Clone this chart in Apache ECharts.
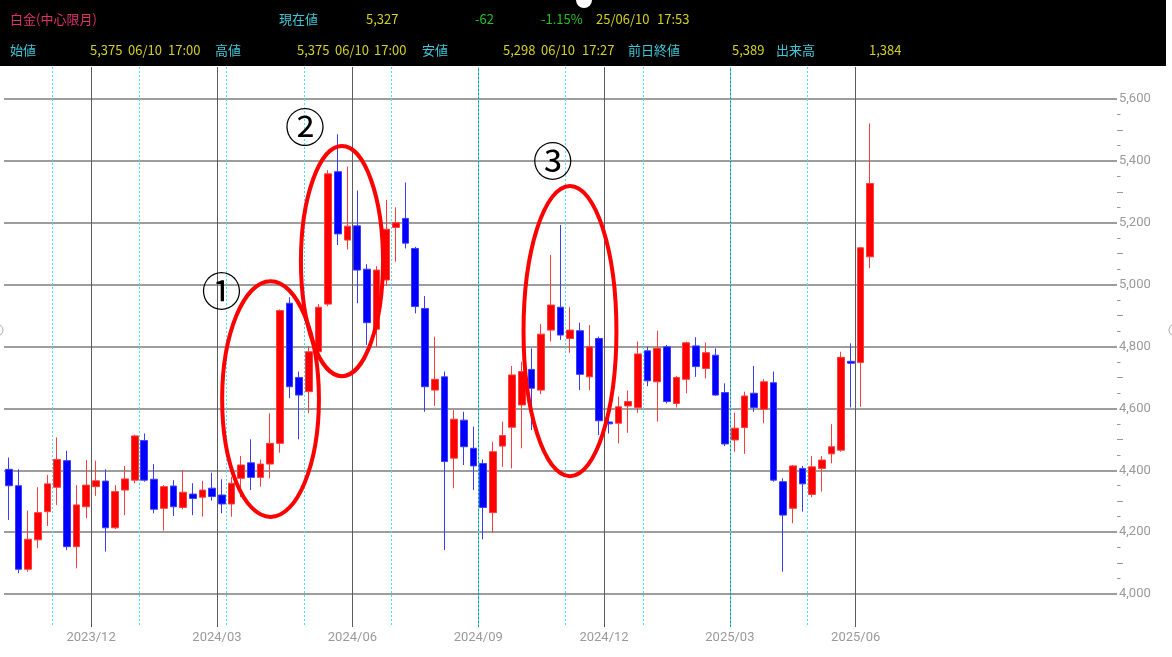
<!DOCTYPE html>
<html><head><meta charset="utf-8">
<script src="https://cdn.jsdelivr.net/npm/echarts@6/dist/echarts.min.js"></script>
<style>html,body{margin:0;padding:0;background:#fff}#c{width:1172px;height:657px}</style>
</head><body><div id="c"></div>
<script>
// ---------- data (weekly candles, week-ending dates) ----------
const weeks = [
'2023/09/29','2023/10/06','2023/10/13','2023/10/20','2023/10/27','2023/11/03','2023/11/10','2023/11/17','2023/11/24','2023/12/01',
'2023/12/08','2023/12/15','2023/12/22','2023/12/29','2024/01/05','2024/01/12','2024/01/19','2024/01/26','2024/02/02','2024/02/09',
'2024/02/16','2024/02/23','2024/03/01','2024/03/08','2024/03/15','2024/03/22','2024/03/29','2024/04/05','2024/04/12','2024/04/19',
'2024/04/26','2024/05/03','2024/05/10','2024/05/17','2024/05/24','2024/05/31','2024/06/07','2024/06/14','2024/06/21','2024/06/28',
'2024/07/05','2024/07/12','2024/07/19','2024/07/26','2024/08/02','2024/08/09','2024/08/16','2024/08/23','2024/08/30','2024/09/06',
'2024/09/13','2024/09/20','2024/09/27','2024/10/04','2024/10/11','2024/10/18','2024/10/25','2024/11/01','2024/11/08','2024/11/15',
'2024/11/22','2024/11/29','2024/12/06','2024/12/13','2024/12/20','2024/12/27','2025/01/03','2025/01/10','2025/01/17','2025/01/24',
'2025/01/31','2025/02/07','2025/02/14','2025/02/21','2025/02/28','2025/03/07','2025/03/14','2025/03/21','2025/03/28','2025/04/04',
'2025/04/11','2025/04/18','2025/04/25','2025/05/02','2025/05/09','2025/05/16','2025/05/23','2025/05/30','2025/06/06','2025/06/13'];

const openV = [
4403,4350,4080,4175,4266,4345,4431,4153,4282,4347,
4365,4214,4336,4368,4496,4371,4277,4349,4280,4323,
4313,4342,4320,4291,4374,4424,4377,4420,4487,4940,
4700,4654,4783,4937,5365,5144,5190,5050,4856,5015,
5185,5214,5117,4923,4659,4702,4439,4562,4471,4422,
4263,4478,4539,4611,4726,4659,4853,4927,4826,4851,
4702,4826,4556,4552,4608,4603,4786,4686,4799,4616,
4694,4802,4729,4772,4651,4498,4538,4649,4597,4683,
4363,4277,4406,4322,4406,4453,4465,4752,4748,5090];
const highV = [
4441,4403,4269,4345,4385,4506,4463,4352,4433,4431,
4403,4352,4414,4515,4519,4420,4352,4368,4401,4358,
4366,4392,4371,4379,4446,4500,4435,4584,4920,4959,
4719,4800,4937,5370,5486,5381,5304,5066,5060,5274,
5250,5330,5122,4963,4832,4719,4595,4589,4541,4435,
4492,4557,4737,4751,4794,4873,5096,5193,4927,4877,
4869,4832,4586,4638,4657,4816,4799,4851,4805,4705,
4816,4830,4812,4794,4681,4586,4654,4737,4694,4719,
4374,4417,4414,4446,4446,4549,4783,4810,5122,5521];
const lowV = [
4239,4067,4072,4148,4220,4288,4142,4083,4245,4317,
4137,4210,4255,4358,4363,4261,4205,4252,4274,4255,
4250,4302,4261,4250,4313,4336,4347,4374,4457,4633,
4500,4584,4780,4930,5128,5114,4940,4805,4799,4996,
5074,5117,4907,4589,4608,4142,4342,4417,4336,4177,
4198,4411,4406,4471,4530,4646,4816,4821,4780,4659,
4659,4514,4519,4487,4521,4586,4672,4557,4616,4603,
4649,4702,4697,4640,4478,4460,4453,4589,4552,4363,
4072,4229,4266,4313,4331,4422,4460,4603,4605,5053];
const closeV = [
4350,4080,4177,4263,4356,4435,4153,4288,4352,4366,
4214,4331,4372,4511,4368,4274,4347,4282,4329,4309,
4336,4315,4291,4358,4417,4377,4420,4487,4916,4670,
4643,4783,4927,5358,5164,5189,5047,4877,5047,5179,
5200,5134,4929,4670,4694,4428,4565,4476,4414,4280,
4460,4512,4708,4719,4665,4840,4934,4837,4853,4710,
4799,4560,4550,4605,4622,4776,4689,4794,4622,4700,
4812,4735,4780,4643,4485,4536,4640,4603,4686,4368,
4255,4414,4356,4411,4433,4476,4765,4746,5119,5327];

// axis tick labels
const yTicks = [4000,4200,4400,4600,4800,5000,5200,5400,5600];
const yMidTicks = [4100,4300,4500,4700,4900,5100,5300,5500];
const quarterStarts = ['2023/12/01','2024/03/01','2024/06/07','2024/09/06','2024/12/06','2025/03/07','2025/06/06'];
const quarterLabels = ['2023/12','2024/03','2024/06','2024/09','2024/12','2025/03','2025/06'];
const oddMonthMarks = ['2023/11/03','2024/01/05','2024/03/08','2024/05/03','2024/07/05','2024/09/06','2024/11/08','2025/01/03','2025/03/07','2025/05/02'];

// header texts
const headerRow1 = ['白金(中心限月)','現在値','5,327','-62','-1.15%','25/06/10','17:53'];
const headerRow2 = ['始値','5,375','06/10','17:00','高値','5,375','06/10','17:00','安値','5,298','06/10','17:27','前日終値','5,389','出来高','1,384'];

// annotations (in data space: category index, price)
const marks = ['①','②','③'];
const markAt = [[21.98,4980],[30.6,5509],[56.2,5400]];
const ovalAt = [[27.04,4630,5.0,381],[34.42,5076,4.24,372],[57.98,4850,4.8,469]];

// ---------- layout / style ----------
const SLOTS = 115;
const slots = weeks.concat(new Array(SLOTS - weeks.length).fill(''));
const bounds = slots.concat(['']);
const candles = weeks.map((d, i) => [openV[i], closeV[i], lowV[i], highV[i]]);

const PINK = '#e0306e', CYAN = '#3ec6d6', YEL = '#d4cf1e', GRN = '#22c222';
const row1X = [10, 279, 366, 475, 541, 596, 657];
const row1C = [PINK, CYAN, YEL, GRN, GRN, YEL, YEL];
const row2X = [10, 90, 128, 168, 215, 297, 335, 374, 422, 503, 541, 582, 628, 732, 776, 869];
const row2C = [CYAN,YEL,YEL,YEL,CYAN,YEL,YEL,YEL,CYAN,YEL,YEL,YEL,CYAN,YEL,CYAN,YEL];
const HFONT = '13px "Noto Sans CJK JP", "Noto Sans", sans-serif';

const chart = echarts.init(document.getElementById('c'), null, {renderer: 'canvas', width: 1172, height: 657});

const option = {
  animation: false,
  backgroundColor: '#ffffff',
  grid: [
    {left: 4, right: 55, top: 99, bottom: 63},
    {left: 4, right: 55, top: 67, bottom: 30}
  ],
  xAxis: [
    {type: 'category', gridIndex: 0, data: slots, boundaryGap: true,
     axisLine: {show: false}, axisTick: {show: false}, axisLabel: {show: false}, splitLine: {show: false}},
    {type: 'category', gridIndex: 1, data: bounds, boundaryGap: false, position: 'bottom',
     axisLine: {show: false}, axisTick: {show: false},
     axisLabel: {interval: (i, v) => quarterStarts.includes(v),
                 formatter: v => { const k = quarterStarts.indexOf(v); return k >= 0 ? quarterLabels[k] : ''; },
                 color: '#9a9a9a', fontSize: 13, fontFamily: 'Roboto', margin: 4},
     splitLine: {show: true, interval: (i, v) => quarterStarts.includes(v),
                 lineStyle: {color: ['#5c5c5c','#5c5c5c','#5c5c5c','#1c8f95','#5c5c5c','#1c8f95','#5c5c5c'], width: 1}}},
    {type: 'category', gridIndex: 1, data: bounds, boundaryGap: false, position: 'top',
     axisLine: {show: false}, axisTick: {show: false}, axisLabel: {show: false},
     splitLine: {show: true, interval: (i, v) => oddMonthMarks.includes(v),
                 lineStyle: {color: '#3fe3f2', width: 1, type: [2, 2]}}}
  ],
  yAxis: [
    {type: 'value', gridIndex: 0, min: yTicks[0], max: yTicks[yTicks.length - 1], interval: 200, position: 'right',
     axisLine: {show: false}, axisTick: {show: false},
     minorTick: {show: true, splitNumber: 4, length: 3.5, lineStyle: {color: '#9a9a9a'}},
     axisLabel: {margin: 2, color: '#9a9a9a', fontSize: 13, fontFamily: 'Roboto',
                 formatter: v => v.toLocaleString('en-US')},
     splitLine: {show: true, lineStyle: {color: '#7c7c7c', width: 1.5}}},
    {type: 'value', gridIndex: 0, min: yTicks[0], max: yTicks[yTicks.length - 1], interval: 200, position: 'right',
     axisLine: {show: false}, axisLabel: {show: false}, splitLine: {show: false},
     axisTick: {show: true, length: 6, customValues: yMidTicks, lineStyle: {color: '#9a9a9a'}}},
    {type: 'value', gridIndex: 1, show: false, splitLine: {show: false}}
  ],
  series: [{
    type: 'candlestick', xAxisIndex: 0, yAxisIndex: 0, data: candles, barWidth: 7.2, z: 5,
    itemStyle: {color: '#ff0000', color0: '#0000ff', borderColor: '#ff3c3c', borderColor0: '#3c3cff', borderWidth: 1}
  }]
};
chart.setOption(option);

// ---------- annotations & header (placed through the axes) ----------
const c0 = chart.convertToPixel({xAxisIndex: 0}, 0);
const c10 = chart.convertToPixel({xAxisIndex: 0}, 10);
const bw = (c10 - c0) / 10;
const px = f => c0 + f * bw;
const py = v => chart.convertToPixel({yAxisIndex: 0}, v);
const dy = d => py(4000) - py(4000 + d);

const g = [];
g.push({type: 'rect', shape: {x: 0, y: 0, width: 1166, height: 66}, style: {fill: '#000'}, z: 50});
g.push({type: 'circle', shape: {cx: 584, cy: 0, r: 8}, style: {fill: '#fff'}, z: 51});
g.push({type: 'circle', shape: {cx: 1175, cy: 330, r: 6}, style: {fill: '#fff', stroke: '#aaa', lineWidth: 1}, z: 51});
g.push({type: 'circle', shape: {cx: -3, cy: 330, r: 6}, style: {fill: '#fff', stroke: '#aaa', lineWidth: 1}, z: 51});
headerRow1.forEach((t, i) => g.push({type: 'text', x: row1X[i], y: 19, z: 52,
  style: {text: t, fill: row1C[i], font: HFONT, textAlign: 'left', textVerticalAlign: 'middle', align: 'left', verticalAlign: 'middle'}}));
headerRow2.forEach((t, i) => g.push({type: 'text', x: row2X[i], y: 50, z: 52,
  style: {text: t, fill: row2C[i], font: HFONT, textAlign: 'left', textVerticalAlign: 'middle', align: 'left', verticalAlign: 'middle'}}));
ovalAt.forEach(o => g.push({type: 'ellipse', z: 60,
  shape: {cx: px(o[0]), cy: py(o[1]), rx: o[2] * bw, ry: dy(o[3])},
  style: {fill: null, stroke: '#ff0000', lineWidth: 4}}));
marks.forEach((m, i) => g.push({type: 'text', x: px(markAt[i][0]), y: py(markAt[i][1]), z: 61,
  style: {text: m, fill: '#000', font: '40px "Noto Sans CJK JP"', textAlign: 'center', textVerticalAlign: 'middle', align: 'center', verticalAlign: 'middle'}}));
chart.setOption({graphic: g});
</script>
</body></html>
